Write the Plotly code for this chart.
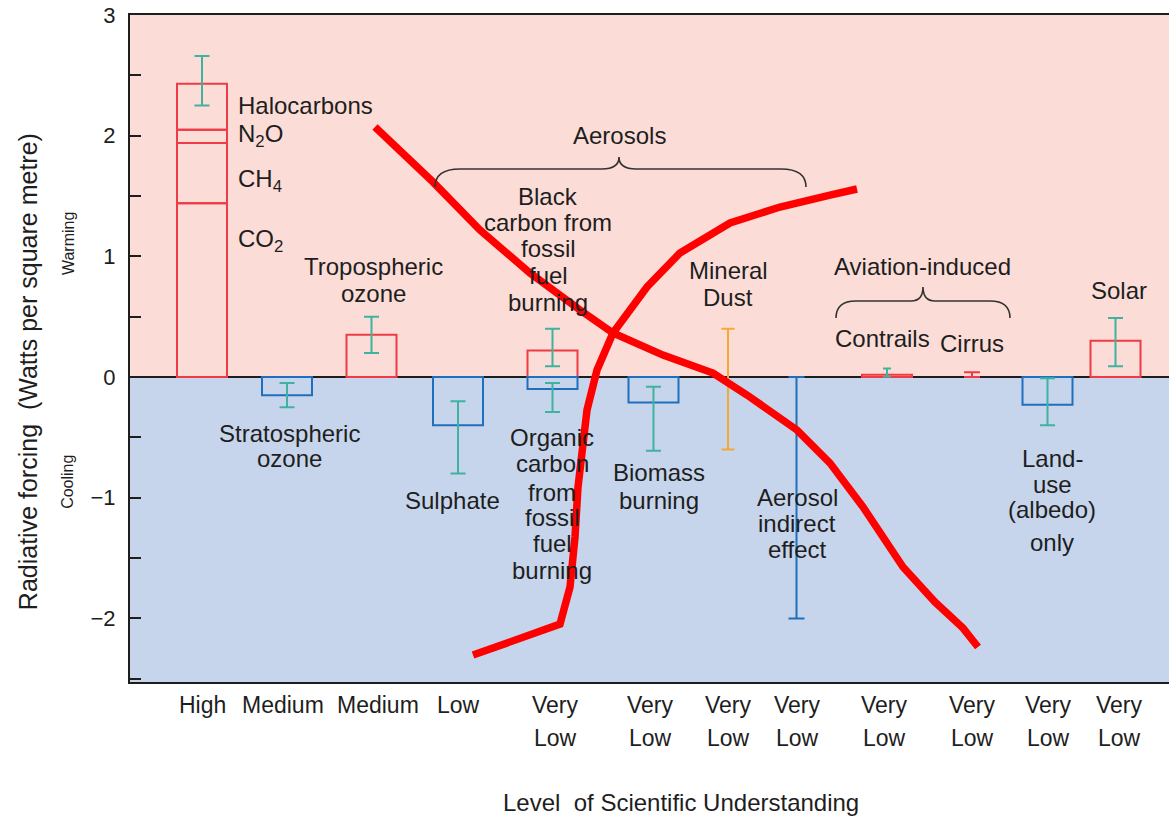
import plotly.graph_objects as go

# ---------------- data ----------------
categories = ["Greenhouse gases", "Stratospheric ozone", "Tropospheric ozone", "Sulphate",
              "Fossil fuel carbon", "Biomass burning", "Mineral dust", "Aerosol indirect effect",
              "Contrails", "Cirrus", "Land-use (albedo)", "Solar"]
x_pos = [0.72, 1.57, 2.415, 3.28, 4.225, 5.235, 5.98, 6.665, 7.57, 8.42, 9.175, 9.855]
lsu_labels = ["High", "Medium", "Medium", "Low", "Very Low", "Very Low", "Very Low",
              "Very Low", "Very Low", "Very Low", "Very Low", "Very Low"]

ghg_names = ["CO2", "CH4", "N2O", "Halocarbons"]
ghg_values = [1.44, 0.50, 0.11, 0.38]

bar_index = [1, 2, 3, 4, 4, 5, 8, 10, 11]
bar_values = [-0.15, 0.35, -0.40, 0.22, -0.10, -0.21, 0.02, -0.23, 0.30]

err_index = [0, 1, 2, 3, 4, 4, 5, 6, 7, 8, 9, 10, 11]
err_low = [2.25, -0.25, 0.20, -0.80, 0.09, -0.29, -0.61, -0.60, -2.00, 0.005, 0.00, -0.40, 0.09]
err_high = [2.66, -0.05, 0.50, -0.20, 0.40, -0.05, -0.08, 0.40, 0.00, 0.07, 0.04, -0.01, 0.49]

# hand-drawn red strokes over the chart
stroke1_x = [2.45, 2.75, 3.03, 3.50, 4.00, 4.50, 4.83, 5.33, 5.83, 6.17, 6.67, 7.00, 7.33, 7.73, 8.05, 8.33, 8.48]
stroke1_y = [2.072, 1.840, 1.616, 1.218, 0.862, 0.555, 0.365, 0.182, 0.033, -0.149, -0.439, -0.713,
             -1.077, -1.574, -1.864, -2.080, -2.237]
stroke2_x = [3.43, 4.30, 4.40, 4.45, 4.48, 4.52, 4.57, 4.67, 4.83, 5.17, 5.50, 6.00, 6.50, 7.00, 7.27]
stroke2_y = [-2.304, -2.047, -1.740, -1.326, -0.912, -0.580, -0.273, 0.058, 0.365, 0.746, 1.028,
             1.276, 1.409, 1.508, 1.558]

# ---------------- styles ----------------
RED = "#ee3b45"
BLUE = "#1f6fbf"
TEAL = "#3fb3a0"
ORANGE = "#f4a935"
PINK_BG = "#fbdcd7"
BLUE_BG = "#c6d5eb"
TXT = "#1e1e1e"
FONT = "Liberation Sans, Arial, sans-serif"
err_colors = [TEAL, TEAL, TEAL, TEAL, TEAL, TEAL, TEAL, ORANGE, BLUE, TEAL, RED, TEAL, TEAL]
err_caps = [7.5, 7.5, 7.5, 7.5, 7.5, 7.5, 7.5, 6.5, 8, 4, 8, 7.5, 7.5]
lsu_label_x = [0.72, 1.53, 2.48, 3.28, 4.25, 5.20, 5.98, 6.67, 7.54, 8.42, 9.18, 9.89]
BAR_W = 0.5
Y_MIN, Y_MAX = -2.527, 3.0
X_MIN, X_MAX = 0.0, 10.39

fig = go.Figure()

# greenhouse gas stacked column
bases = []
acc = 0.0
for v in ghg_values:
    bases.append(acc)
    acc += v
fig.add_trace(go.Bar(
    x=[x_pos[0]] * len(ghg_values), y=ghg_values, base=bases, width=BAR_W,
    marker=dict(color="rgba(0,0,0,0)", line=dict(color=RED, width=2)),
    name="Greenhouse gases", showlegend=False, hoverinfo="skip"))

# other forcing bars
fig.add_trace(go.Bar(
    x=[x_pos[i] for i in bar_index], y=bar_values, base=[0] * len(bar_values), width=BAR_W,
    marker=dict(color="rgba(0,0,0,0)",
                line=dict(color=[RED if v > 0 else BLUE for v in bar_values], width=2)),
    showlegend=False, hoverinfo="skip"))

# uncertainty ranges
for k, i in enumerate(err_index):
    mid = (err_low[k] + err_high[k]) / 2
    half = (err_high[k] - err_low[k]) / 2
    fig.add_trace(go.Scatter(
        x=[x_pos[i]], y=[mid], mode="markers",
        marker=dict(size=1, color="rgba(0,0,0,0)"),
        error_y=dict(type="data", array=[half], symmetric=True, color=err_colors[k],
                     thickness=2, width=err_caps[k]),
        showlegend=False, hoverinfo="skip"))

# red strokes
for sx, sy in [(stroke1_x, stroke1_y), (stroke2_x, stroke2_y)]:
    fig.add_trace(go.Scatter(x=sx, y=sy, mode="lines",
                             line=dict(color="#ff0000", width=7.5),
                             showlegend=False, hoverinfo="skip"))

# background bands
shapes = [
    dict(type="rect", xref="paper", yref="y", x0=0, x1=1, y0=0, y1=Y_MAX,
         fillcolor=PINK_BG, line=dict(width=0), layer="below"),
    dict(type="rect", xref="paper", yref="y", x0=0, x1=1, y0=Y_MIN, y1=0,
         fillcolor=BLUE_BG, line=dict(width=0), layer="below"),
]


def brace(x0, x1, xm, yend, yh, ytip, r=0.25, d=0.17):
    return (f"M {x0},{yend} Q {x0},{yh} {x0 + r},{yh} L {xm - d},{yh} "
            f"Q {xm},{yh} {xm},{ytip} Q {xm},{yh} {xm + d},{yh} "
            f"L {x1 - r},{yh} Q {x1},{yh} {x1},{yend}")


shapes.append(dict(type="path", xref="x", yref="y",
                   path=brace(3.05, 6.76, 4.89, 1.574, 1.724, 1.823),
                   line=dict(color="#333333", width=1.6)))
shapes.append(dict(type="path", xref="x", yref="y",
                   path=brace(7.06, 8.80, 7.93, 0.489, 0.630, 0.746, r=0.2, d=0.12),
                   line=dict(color="#333333", width=1.6)))

annotations = []


def label(lines, x, ys, size=24, anchor="center"):
    for t, y in zip(lines, ys):
        annotations.append(dict(text=t, x=x, y=y, xref="x", yref="y", showarrow=False,
                                xanchor=anchor, yanchor="middle",
                                font=dict(family=FONT, size=size, color=TXT)))


label(["Halocarbons"], 1.06, [2.246], anchor="left")
label(["N<sub>2</sub>O"], 1.06, [2.0], anchor="left")
label(["CH<sub>4</sub>"], 1.06, [1.63], anchor="left")
label(["CO<sub>2</sub>"], 1.06, [1.13], anchor="left")
label(["Tropospheric", "ozone"], 2.43, [0.912, 0.696])
label(["Stratospheric", "ozone"], 1.59, [-0.464, -0.679])
label(["Aerosols"], 4.89, [2.005])
label(["Black", "carbon from", "fossil", "fuel", "burning"], 4.18,
      [1.492, 1.284, 1.069, 0.845, 0.621])
label(["Mineral", "Dust"], 5.98, [0.887, 0.663])
label(["Aviation-induced"], 7.92, [0.912])
label(["Contrails"], 7.52, [0.323])
label(["Cirrus"], 8.42, [0.282])
label(["Solar"], 9.89, [0.721])
label(["Sulphate"], 3.22, [-1.019])
label(["Organic", "carbon", "from", "fossil", "fuel", "burning"], 4.22,
      [-0.505, -0.713, -0.953, -1.160, -1.376, -1.599])
label(["Biomass", "burning"], 5.29, [-0.787, -1.019])
label(["Aerosol", "indirect", "effect"], 6.67, [-0.994, -1.210, -1.425])
label(["Land-", "use", "(albedo)", "only"], 9.22, [-0.671, -0.887, -1.094, -1.367])

# level of scientific understanding (x tick labels)
for x, lab in zip(lsu_label_x, lsu_labels):
    parts = lab.split(" ")
    ys = [-0.0345, -0.084] if len(parts) == 2 else [-0.0345]
    for t, y in zip(parts, ys):
        annotations.append(dict(text=t, x=x, y=y, xref="x", yref="paper", showarrow=False,
                                xanchor="center", yanchor="middle",
                                font=dict(family=FONT, size=23, color=TXT)))

annotations.append(dict(text="Level  of Scientific Understanding", x=0.53, y=-0.181,
                        xref="paper", yref="paper", showarrow=False, xanchor="center",
                        yanchor="middle", font=dict(family=FONT, size=24, color=TXT)))
annotations.append(dict(text="Radiative forcing  (Watts per square metre)", x=-0.0982, y=0.466,
                        xref="paper", yref="paper", showarrow=False, textangle=-90,
                        xanchor="center", yanchor="middle",
                        font=dict(family=FONT, size=25, color=TXT)))
annotations.append(dict(text="Warming", x=-0.0597, y=0.658, xref="paper", yref="paper",
                        showarrow=False, textangle=-90, xanchor="center", yanchor="middle",
                        font=dict(family=FONT, size=16, color=TXT)))
annotations.append(dict(text="Cooling", x=-0.0597, y=0.300, xref="paper", yref="paper",
                        showarrow=False, textangle=-90, xanchor="center", yanchor="middle",
                        font=dict(family=FONT, size=16, color=TXT)))

fig.update_layout(
    width=1169, height=816,
    margin=dict(l=130, r=0, t=15, b=134),
    paper_bgcolor="white", plot_bgcolor="white",
    barmode="overlay", showlegend=False,
    shapes=shapes, annotations=annotations,
    font=dict(family=FONT, color=TXT),
    xaxis=dict(range=[X_MIN, X_MAX], showgrid=False, zeroline=False, showticklabels=False,
               ticks="", showline=True, linecolor=TXT, linewidth=2, mirror=True),
    yaxis=dict(range=[Y_MIN, Y_MAX], showgrid=False, zeroline=True, zerolinecolor=TXT,
               zerolinewidth=2, tickvals=[-2, -1, 0, 1, 2, 3], ticks="inside", ticklen=11,
               tickwidth=2, tickcolor=TXT, showline=True, linecolor=TXT, linewidth=2,
               tickfont=dict(family=FONT, size=22, color=TXT), ticklabelstandoff=8,
               minor=dict(dtick=0.5, tick0=0, ticks="inside", ticklen=11, tickwidth=2,
                          tickcolor=TXT)),
)

# remove the page's default body margin so the figure fills the window exactly
fig.write_html("out.html", config={"displayModeBar": False},
               post_script="document.body.style.margin='0px';document.body.style.overflow='hidden';")
